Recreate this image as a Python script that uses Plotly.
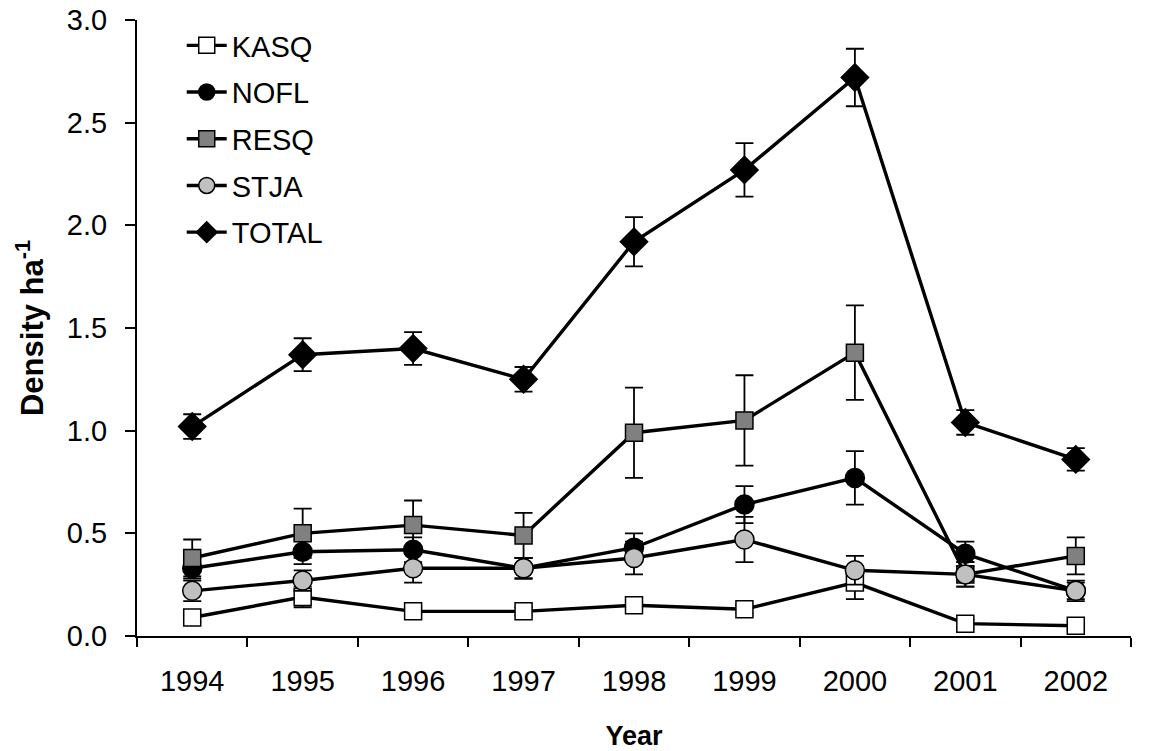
import plotly.graph_objects as go

years = ["1994", "1995", "1996", "1997", "1998", "1999", "2000", "2001", "2002"]

kasq = [0.09, 0.19, 0.12, 0.12, 0.15, 0.13, 0.26, 0.06, 0.05]
kasq_err = [0.02, 0.05, 0.02, 0.02, 0.02, 0.02, 0.08, 0.02, 0.02]

nofl = [0.33, 0.41, 0.42, 0.33, 0.43, 0.64, 0.77, 0.40, 0.22]
nofl_err = [0.05, 0.06, 0.06, 0.05, 0.07, 0.09, 0.13, 0.06, 0.04]

resq = [0.38, 0.50, 0.54, 0.49, 0.99, 1.05, 1.38, 0.30, 0.39]
resq_err = [0.09, 0.12, 0.12, 0.11, 0.22, 0.22, 0.23, 0.06, 0.09]

stja = [0.22, 0.27, 0.33, 0.33, 0.38, 0.47, 0.32, 0.30, 0.22]
stja_err = [0.05, 0.05, 0.07, 0.05, 0.08, 0.11, 0.07, 0.06, 0.05]

total = [1.02, 1.37, 1.40, 1.25, 1.92, 2.27, 2.72, 1.04, 0.86]
total_err = [0.06, 0.08, 0.08, 0.06, 0.12, 0.13, 0.14, 0.06, 0.055]

series = [
    ("KASQ", kasq, kasq_err, "square", "white", 17),
    ("NOFL", nofl, nofl_err, "circle", "black", 19),
    ("RESQ", resq, resq_err, "square", "#808080", 17),
    ("STJA", stja, stja_err, "circle", "#c0c0c0", 19),
    ("TOTAL", total, total_err, "diamond", "black", 21),
]

fig = go.Figure()
for name, vals, err, sym, fill, size in series:
    fig.add_trace(go.Scatter(
        x=years, y=vals, name=name, legendgroup=name, mode="lines+markers",
        line=dict(color="black", width=3.4),
        marker=dict(symbol=sym, size=size, color=fill,
                    line=dict(color="black", width=1.5)),
        error_y=dict(type="data", array=err, visible=True,
                     color="black", thickness=1.8, width=9),
    ))

font = "Arial, Liberation Sans, sans-serif"
fig.update_layout(
    width=1135, height=743,
    margin=dict(l=129, r=12, t=12, b=115),
    paper_bgcolor="white", plot_bgcolor="white",
    font=dict(family=font, size=29, color="black"),
    showlegend=True,
    legend=dict(x=0.045, y=1.0, xanchor="left", yanchor="top",
                bgcolor="rgba(0,0,0,0)", font=dict(size=29),
                tracegroupgap=6, itemwidth=40),
    xaxis=dict(
        type="category", range=[-0.5, 8.5],
        showline=True, linecolor="black", linewidth=2,
        ticks="outside", tickson="boundaries", ticklen=9,
        tickwidth=1.5, tickcolor="black",
        showgrid=False, zeroline=False, automargin=False,
        tickfont=dict(size=29), ticklabelstandoff=18,
        title=dict(text="<b>Year</b>", font=dict(size=27), standoff=30),
    ),
    yaxis=dict(
        range=[0, 3.0], dtick=0.5, tickformat=".1f",
        showline=True, linecolor="black", linewidth=2,
        ticks="outside", ticklen=10, tickwidth=1.5, tickcolor="black",
        showgrid=False, zeroline=False, automargin="left",
        tickfont=dict(size=29), ticklabelstandoff=12,
        ticklabeloverflow="allow",
        title=dict(text="<b>Density ha<sup>-1</sup></b>", font=dict(size=31), standoff=14),
    ),
)

fig.write_html("out.html")
